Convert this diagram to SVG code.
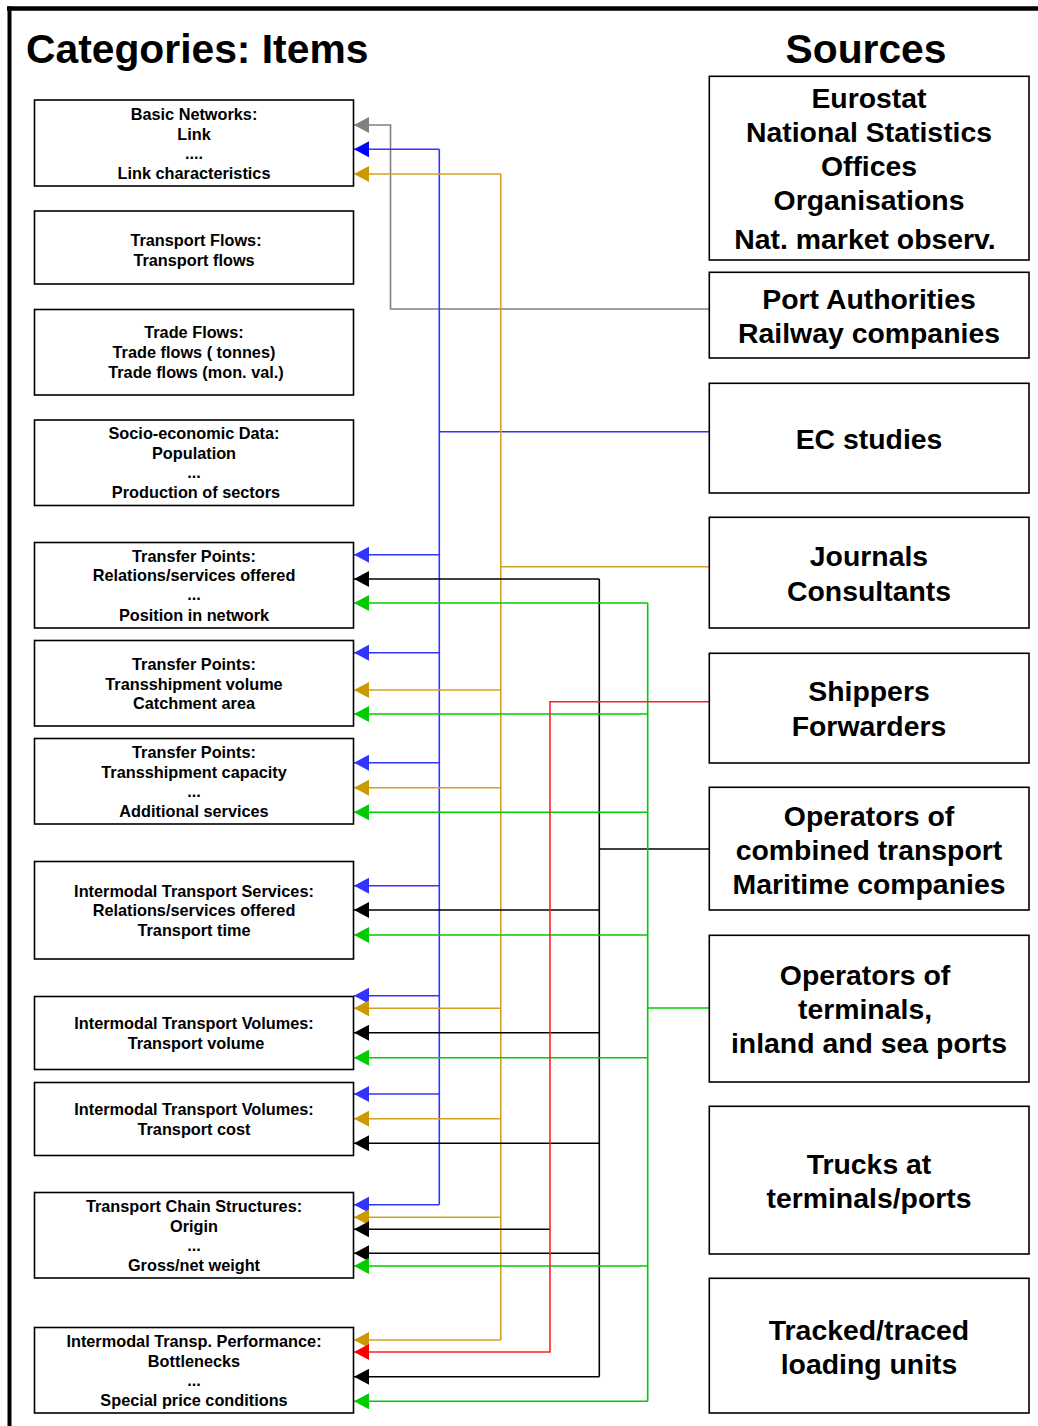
<svg xmlns="http://www.w3.org/2000/svg" width="1038" height="1426" viewBox="0 0 1038 1426">
<defs>
<style>
text{font-family:"Liberation Sans",Arial,sans-serif;font-weight:bold;fill:#000;text-anchor:middle}
.title{font-size:40.8px}
.l{font-size:16.3px}
.r{font-size:28.4px}
.box{fill:#fff;stroke:#000;stroke-width:1.6}
.c{fill:none;stroke-width:1.6}
.gray{stroke:#808080}
.blue{stroke:#3333ff}
.gold{stroke:#d4a020}
.black{stroke:#000}
.green{stroke:#00cc00}
.red{stroke:#ff2020}
</style>
<marker id="aGray" markerUnits="userSpaceOnUse" markerWidth="15" markerHeight="16" refX="15" refY="8" orient="auto" viewBox="0 0 15 16"><path d="M0,0 L15,8 L0,16 z" fill="#808080"/></marker>
<marker id="aBlue0" markerUnits="userSpaceOnUse" markerWidth="15" markerHeight="16" refX="15" refY="8" orient="auto" viewBox="0 0 15 16"><path d="M0,0 L15,8 L0,16 z" fill="#0000ff"/></marker>
<marker id="aBlue" markerUnits="userSpaceOnUse" markerWidth="15" markerHeight="16" refX="15" refY="8" orient="auto" viewBox="0 0 15 16"><path d="M0,0 L15,8 L0,16 z" fill="#3333ff"/></marker>
<marker id="aGold" markerUnits="userSpaceOnUse" markerWidth="15" markerHeight="16" refX="15" refY="8" orient="auto" viewBox="0 0 15 16"><path d="M0,0 L15,8 L0,16 z" fill="#cc9900"/></marker>
<marker id="aBlack" markerUnits="userSpaceOnUse" markerWidth="15" markerHeight="16" refX="15" refY="8" orient="auto" viewBox="0 0 15 16"><path d="M0,0 L15,8 L0,16 z" fill="#000"/></marker>
<marker id="aGreen" markerUnits="userSpaceOnUse" markerWidth="15" markerHeight="16" refX="15" refY="8" orient="auto" viewBox="0 0 15 16"><path d="M0,0 L15,8 L0,16 z" fill="#00cc00"/></marker>
<marker id="aRed" markerUnits="userSpaceOnUse" markerWidth="15" markerHeight="16" refX="15" refY="8" orient="auto" viewBox="0 0 15 16"><path d="M0,0 L15,8 L0,16 z" fill="#ff0000"/></marker>
</defs>
<rect width="1038" height="1426" fill="#fff"/>
<g id="frame">
<line x1="7" y1="8.5" x2="1038" y2="8.5" stroke="#000" stroke-width="4.5"/>
<line x1="9.5" y1="6.5" x2="9.5" y2="1426" stroke="#000" stroke-width="4"/>
</g>
<g id="titles">
<text class="title" x="26" y="63" style="text-anchor:start">Categories: Items</text>
<text class="title" x="866" y="63">Sources</text>
</g>
<g id="connectors">
<path class="c gray" d="M709,309 H390.5 V125 H354" marker-end="url(#aGray)"/>
<path class="c blue" d="M709,431.7 H439.3"/>
<path class="c blue" d="M439.3,149.3 V1204.7"/>
<path class="c blue" d="M439.3,149.3 H354" marker-end="url(#aBlue0)"/>
<path class="c blue" d="M439.3,554.7 H354" marker-end="url(#aBlue)"/>
<path class="c blue" d="M439.3,652.7 H354" marker-end="url(#aBlue)"/>
<path class="c blue" d="M439.3,762.7 H354" marker-end="url(#aBlue)"/>
<path class="c blue" d="M439.3,885.7 H354" marker-end="url(#aBlue)"/>
<path class="c blue" d="M439.3,995.7 H354" marker-end="url(#aBlue)"/>
<path class="c blue" d="M439.3,1094 H354" marker-end="url(#aBlue)"/>
<path class="c blue" d="M439.3,1204.7 H354" marker-end="url(#aBlue)"/>
<path class="c gold" d="M709,566.7 H500.8"/>
<path class="c gold" d="M500.8,174 V1340"/>
<path class="c gold" d="M500.8,174 H354" marker-end="url(#aGold)"/>
<path class="c gold" d="M500.8,690 H354" marker-end="url(#aGold)"/>
<path class="c gold" d="M500.8,787.7 H354" marker-end="url(#aGold)"/>
<path class="c gold" d="M500.8,1008.3 H354" marker-end="url(#aGold)"/>
<path class="c gold" d="M500.8,1118.7 H354" marker-end="url(#aGold)"/>
<path class="c gold" d="M500.8,1217.3 H354" marker-end="url(#aGold)"/>
<path class="c gold" d="M500.8,1340 H354" marker-end="url(#aGold)"/>
<path class="c black" d="M709,849 H599.3"/>
<path class="c black" d="M599.3,579 V1376.7"/>
<path class="c black" d="M599.3,579 H354" marker-end="url(#aBlack)"/>
<path class="c black" d="M599.3,910 H354" marker-end="url(#aBlack)"/>
<path class="c black" d="M599.3,1032.7 H354" marker-end="url(#aBlack)"/>
<path class="c black" d="M599.3,1143.3 H354" marker-end="url(#aBlack)"/>
<path class="c black" d="M550,1229.3 H354" marker-end="url(#aBlack)"/>
<path class="c black" d="M599.3,1253.3 H354" marker-end="url(#aBlack)"/>
<path class="c black" d="M599.3,1376.7 H354" marker-end="url(#aBlack)"/>
<path class="c green" d="M709,1008 H647.7"/>
<path class="c green" d="M647.7,603 V1401.3"/>
<path class="c green" d="M647.7,603 H354" marker-end="url(#aGreen)"/>
<path class="c green" d="M647.7,714 H354" marker-end="url(#aGreen)"/>
<path class="c green" d="M647.7,812.3 H354" marker-end="url(#aGreen)"/>
<path class="c green" d="M647.7,935 H354" marker-end="url(#aGreen)"/>
<path class="c green" d="M647.7,1057.7 H354" marker-end="url(#aGreen)"/>
<path class="c green" d="M647.7,1266 H354" marker-end="url(#aGreen)"/>
<path class="c green" d="M647.7,1401.3 H354" marker-end="url(#aGreen)"/>
<path class="c red" d="M709,701.7 H550 V1352 H354" marker-end="url(#aRed)"/>
</g>
<g id="n-basic-networks"><rect class="box" x="34.5" y="100" width="319" height="86"/>
<text class="l" x="194" y="120">Basic Networks:</text><text class="l" x="194" y="140">Link</text><text class="l" x="194" y="159">....</text><text class="l" x="194" y="179">Link characteristics</text></g>
<g id="n-transport-flows"><rect class="box" x="34.5" y="211" width="319" height="73"/>
<text class="l" x="196" y="246">Transport Flows:</text><text class="l" x="194" y="266">Transport flows</text></g>
<g id="n-trade-flows"><rect class="box" x="34.5" y="309.5" width="319" height="85.5"/>
<text class="l" x="194" y="338">Trade Flows:</text><text class="l" x="194" y="358">Trade flows ( tonnes)</text><text class="l" x="196" y="378">Trade flows (mon. val.)</text></g>
<g id="n-socio"><rect class="box" x="34.5" y="420" width="319" height="85.5"/>
<text class="l" x="194" y="439">Socio-economic Data:</text><text class="l" x="194" y="459">Population</text><text class="l" x="194" y="478">...</text><text class="l" x="196" y="498">Production of sectors</text></g>
<g id="n-tp1"><rect class="box" x="34.5" y="542.5" width="319" height="85.5"/>
<text class="l" x="194" y="562">Transfer Points:</text><text class="l" x="194" y="581">Relations/services offered</text><text class="l" x="194" y="600">...</text><text class="l" x="194" y="621">Position in network</text></g>
<g id="n-tp2"><rect class="box" x="34.5" y="640.5" width="319" height="85.5"/>
<text class="l" x="194" y="670">Transfer Points:</text><text class="l" x="194" y="690">Transshipment volume</text><text class="l" x="194" y="709">Catchment area</text></g>
<g id="n-tp3"><rect class="box" x="34.5" y="738.5" width="319" height="85.5"/>
<text class="l" x="194" y="758">Transfer Points:</text><text class="l" x="194" y="778">Transshipment capacity</text><text class="l" x="194" y="797">...</text><text class="l" x="194" y="817">Additional services</text></g>
<g id="n-its"><rect class="box" x="34.5" y="861.5" width="319" height="97.5"/>
<text class="l" x="194" y="897">Intermodal Transport Services:</text><text class="l" x="194" y="916">Relations/services offered</text><text class="l" x="194" y="936">Transport time</text></g>
<g id="n-itv1"><rect class="box" x="34.5" y="996.5" width="319" height="73"/>
<text class="l" x="194" y="1029">Intermodal Transport Volumes:</text><text class="l" x="196" y="1049">Transport volume</text></g>
<g id="n-itv2"><rect class="box" x="34.5" y="1082.5" width="319" height="73"/>
<text class="l" x="194" y="1115">Intermodal Transport Volumes:</text><text class="l" x="194" y="1135">Transport cost</text></g>
<g id="n-tcs"><rect class="box" x="34.5" y="1192.5" width="319" height="85.5"/>
<text class="l" x="194" y="1212">Transport Chain Structures:</text><text class="l" x="194" y="1232">Origin</text><text class="l" x="194" y="1251">...</text><text class="l" x="194" y="1271">Gross/net weight</text></g>
<g id="n-itp"><rect class="box" x="34.5" y="1327.5" width="319" height="85.5"/>
<text class="l" x="194" y="1347">Intermodal Transp. Performance:</text><text class="l" x="194" y="1367">Bottlenecks</text><text class="l" x="194" y="1386">...</text><text class="l" x="194" y="1406">Special price conditions</text></g>
<g id="s-eurostat"><rect class="box" x="709.3" y="76.3" width="319.7" height="183.7"/>
<text class="r" x="869" y="108">Eurostat</text><text class="r" x="869" y="142">National Statistics</text><text class="r" x="869" y="176">Offices</text><text class="r" x="869" y="210">Organisations</text><text class="r" x="865" y="249">Nat. market observ.</text></g>
<g id="s-port"><rect class="box" x="709.3" y="272.3" width="319.7" height="85.7"/>
<text class="r" x="869" y="309">Port Authorities</text><text class="r" x="869" y="343">Railway companies</text></g>
<g id="s-ec"><rect class="box" x="709.3" y="383.3" width="319.7" height="109.7"/>
<text class="r" x="869" y="449">EC studies</text></g>
<g id="s-journals"><rect class="box" x="709.3" y="517.3" width="319.7" height="110.7"/>
<text class="r" x="869" y="566">Journals</text><text class="r" x="869" y="601">Consultants</text></g>
<g id="s-shippers"><rect class="box" x="709.3" y="653.3" width="319.7" height="109.7"/>
<text class="r" x="869" y="701">Shippers</text><text class="r" x="869" y="736">Forwarders</text></g>
<g id="s-combined"><rect class="box" x="709.3" y="787.3" width="319.7" height="122.7"/>
<text class="r" x="869" y="826">Operators of</text><text class="r" x="869" y="860">combined transport</text><text class="r" x="869" y="894">Maritime companies</text></g>
<g id="s-terminals"><rect class="box" x="709.3" y="935.3" width="319.7" height="146.7"/>
<text class="r" x="865" y="985">Operators of</text><text class="r" x="865" y="1019">terminals,</text><text class="r" x="869" y="1053">inland and sea ports</text></g>
<g id="s-trucks"><rect class="box" x="709.3" y="1106.3" width="319.7" height="147.7"/>
<text class="r" x="869" y="1174">Trucks at</text><text class="r" x="869" y="1208">terminals/ports</text></g>
<g id="s-tracked"><rect class="box" x="709.3" y="1278.3" width="319.7" height="134.7"/>
<text class="r" x="869" y="1340">Tracked/traced</text><text class="r" x="869" y="1374">loading units</text></g>
</svg>
